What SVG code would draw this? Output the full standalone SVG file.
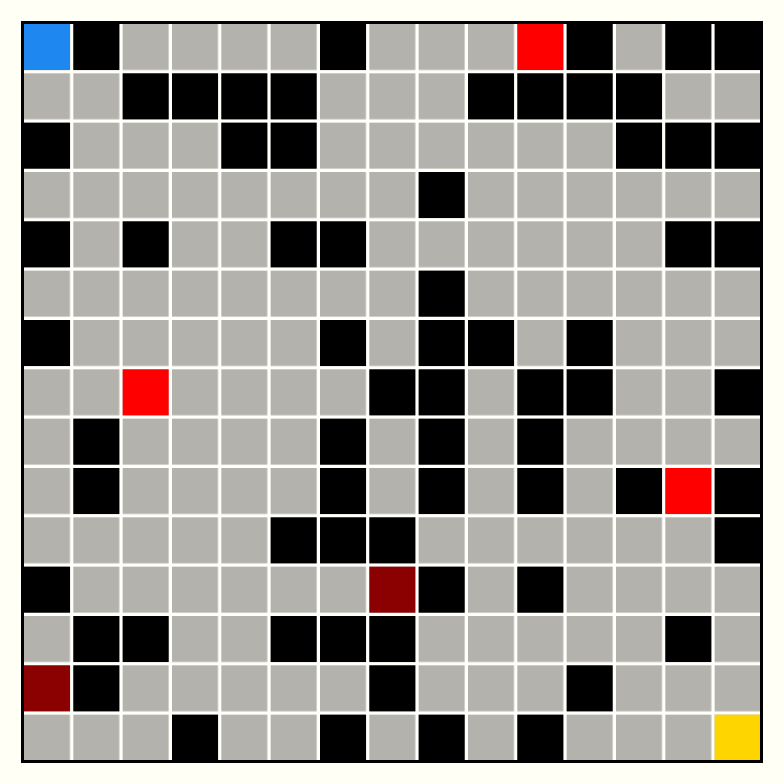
<svg xmlns="http://www.w3.org/2000/svg" width="784" height="784" viewBox="0 0 784 784">
<style>
.k{fill:#000000}
.r{fill:#FF0000}
.d{fill:#8B0000}
.b{fill:#1E88F0}
.y{fill:#FFD500}
</style>
<defs>
<pattern id="cells" x="24" y="24" width="49.3333" height="49.3333" patternUnits="userSpaceOnUse">
<rect x="0" y="0" width="46" height="46" fill="#B3B2AC"/>
</pattern>
</defs>
<rect x="0" y="0" width="784" height="784" fill="#FFFFF6"/>
<rect x="24" y="24" width="736" height="736" fill="#FFFFFB"/>
<rect x="24" y="24" width="736" height="736" fill="url(#cells)"/>
<g id="cells-special">
<!-- row 0 -->
<rect class="b" x="24" y="24" width="46" height="46"/>
<rect class="k" x="73.33" y="24" width="46" height="46"/>
<rect class="k" x="320" y="24" width="46" height="46"/>
<rect class="r" x="517.33" y="24" width="46" height="46"/>
<rect class="k" x="566.67" y="24" width="46" height="46"/>
<rect class="k" x="665.33" y="24" width="46" height="46"/>
<rect class="k" x="714.67" y="24" width="46" height="46"/>
<!-- row 1 -->
<rect class="k" x="122.67" y="73.33" width="46" height="46"/>
<rect class="k" x="172" y="73.33" width="46" height="46"/>
<rect class="k" x="221.33" y="73.33" width="46" height="46"/>
<rect class="k" x="270.67" y="73.33" width="46" height="46"/>
<rect class="k" x="468" y="73.33" width="46" height="46"/>
<rect class="k" x="517.33" y="73.33" width="46" height="46"/>
<rect class="k" x="566.67" y="73.33" width="46" height="46"/>
<rect class="k" x="616" y="73.33" width="46" height="46"/>
<!-- row 2 -->
<rect class="k" x="24" y="122.67" width="46" height="46"/>
<rect class="k" x="221.33" y="122.67" width="46" height="46"/>
<rect class="k" x="270.67" y="122.67" width="46" height="46"/>
<rect class="k" x="616" y="122.67" width="46" height="46"/>
<rect class="k" x="665.33" y="122.67" width="46" height="46"/>
<rect class="k" x="714.67" y="122.67" width="46" height="46"/>
<!-- row 3 -->
<rect class="k" x="418.67" y="172" width="46" height="46"/>
<!-- row 4 -->
<rect class="k" x="24" y="221.33" width="46" height="46"/>
<rect class="k" x="122.67" y="221.33" width="46" height="46"/>
<rect class="k" x="270.67" y="221.33" width="46" height="46"/>
<rect class="k" x="320" y="221.33" width="46" height="46"/>
<rect class="k" x="665.33" y="221.33" width="46" height="46"/>
<rect class="k" x="714.67" y="221.33" width="46" height="46"/>
<!-- row 5 -->
<rect class="k" x="418.67" y="270.67" width="46" height="46"/>
<!-- row 6 -->
<rect class="k" x="24" y="320" width="46" height="46"/>
<rect class="k" x="320" y="320" width="46" height="46"/>
<rect class="k" x="418.67" y="320" width="46" height="46"/>
<rect class="k" x="468" y="320" width="46" height="46"/>
<rect class="k" x="566.67" y="320" width="46" height="46"/>
<!-- row 7 -->
<rect class="r" x="122.67" y="369.33" width="46" height="46"/>
<rect class="k" x="369.33" y="369.33" width="46" height="46"/>
<rect class="k" x="418.67" y="369.33" width="46" height="46"/>
<rect class="k" x="517.33" y="369.33" width="46" height="46"/>
<rect class="k" x="566.67" y="369.33" width="46" height="46"/>
<rect class="k" x="714.67" y="369.33" width="46" height="46"/>
<!-- row 8 -->
<rect class="k" x="73.33" y="418.67" width="46" height="46"/>
<rect class="k" x="320" y="418.67" width="46" height="46"/>
<rect class="k" x="418.67" y="418.67" width="46" height="46"/>
<rect class="k" x="517.33" y="418.67" width="46" height="46"/>
<!-- row 9 -->
<rect class="k" x="73.33" y="468" width="46" height="46"/>
<rect class="k" x="320" y="468" width="46" height="46"/>
<rect class="k" x="418.67" y="468" width="46" height="46"/>
<rect class="k" x="517.33" y="468" width="46" height="46"/>
<rect class="k" x="616" y="468" width="46" height="46"/>
<rect class="r" x="665.33" y="468" width="46" height="46"/>
<rect class="k" x="714.67" y="468" width="46" height="46"/>
<!-- row 10 -->
<rect class="k" x="270.67" y="517.33" width="46" height="46"/>
<rect class="k" x="320" y="517.33" width="46" height="46"/>
<rect class="k" x="369.33" y="517.33" width="46" height="46"/>
<rect class="k" x="714.67" y="517.33" width="46" height="46"/>
<!-- row 11 -->
<rect class="k" x="24" y="566.67" width="46" height="46"/>
<rect class="d" x="369.33" y="566.67" width="46" height="46"/>
<rect class="k" x="418.67" y="566.67" width="46" height="46"/>
<rect class="k" x="517.33" y="566.67" width="46" height="46"/>
<!-- row 12 -->
<rect class="k" x="73.33" y="616" width="46" height="46"/>
<rect class="k" x="122.67" y="616" width="46" height="46"/>
<rect class="k" x="270.67" y="616" width="46" height="46"/>
<rect class="k" x="320" y="616" width="46" height="46"/>
<rect class="k" x="369.33" y="616" width="46" height="46"/>
<rect class="k" x="665.33" y="616" width="46" height="46"/>
<!-- row 13 -->
<rect class="d" x="24" y="665.33" width="46" height="46"/>
<rect class="k" x="73.33" y="665.33" width="46" height="46"/>
<rect class="k" x="369.33" y="665.33" width="46" height="46"/>
<rect class="k" x="566.67" y="665.33" width="46" height="46"/>
<!-- row 14 -->
<rect class="k" x="172" y="714.67" width="46" height="46"/>
<rect class="k" x="320" y="714.67" width="46" height="46"/>
<rect class="k" x="418.67" y="714.67" width="46" height="46"/>
<rect class="k" x="517.33" y="714.67" width="46" height="46"/>
<rect class="y" x="714.67" y="714.67" width="46" height="46"/>
</g>
<rect x="22.5" y="22.5" width="739" height="739" fill="none" stroke="#000000" stroke-width="3"/>
</svg>
